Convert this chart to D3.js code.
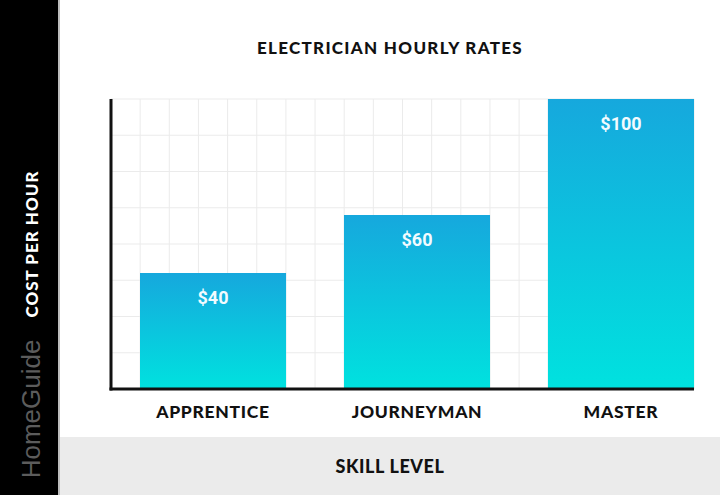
<!DOCTYPE html>
<html><head><meta charset="utf-8">
<script src="https://cdn.jsdelivr.net/npm/d3@7"></script>
<style>
html,body{margin:0;padding:0;background:#fff;}
svg{display:block;}
</style></head>
<body>
<svg id="chart" width="720" height="495"></svg>
<script>
const categories = ["APPRENTICE", "JOURNEYMAN", "MASTER"];
const rates = [40, 60, 100];
const valueLabels = ["$40", "$60", "$100"];
const yGridValues = [0, 12.5, 25, 37.5, 50, 62.5, 75, 87.5, 100];
const xGridCount = 20;
const title = "ELECTRICIAN HOURLY RATES";
const xTitle = "SKILL LEVEL";
const yTitle = "COST PER HOUR";
const brand = "HomeGuide";

const svg = d3.select("#chart");
const W = 720, H = 495;
const plot = {left: 111, right: 694, top: 99, bottom: 389};

// background bands
svg.append("rect").attr("x", 0).attr("y", 0).attr("width", W).attr("height", H).attr("fill", "#fff");
svg.append("rect").attr("x", 60).attr("y", 437).attr("width", W - 60).attr("height", H - 437).attr("fill", "#ebebeb");
svg.append("rect").attr("x", 0).attr("y", 0).attr("width", 58).attr("height", H).attr("fill", "#000");
svg.append("rect").attr("x", 58).attr("y", 0).attr("width", 2).attr("height", H).attr("fill", "#bdbdbd");

const y = d3.scaleLinear().domain([0, 100]).range([plot.bottom, plot.top]);
const x = d3.scaleBand().domain(categories).range([140, 694]).paddingInner(0.284).paddingOuter(0);
const gx = d3.scaleLinear().domain([0, xGridCount]).range([plot.left, plot.right]);

// grid
const grid = svg.append("g");
grid.selectAll("line.h").data(yGridValues).join("line")
  .attr("x1", plot.left).attr("x2", plot.right)
  .attr("y1", d => y(d)).attr("y2", d => y(d))
  .attr("stroke", "#ebebeb").attr("stroke-width", 1);
grid.selectAll("line.v").data(d3.range(1, xGridCount + 1)).join("line")
  .attr("x1", d => gx(d)).attr("x2", d => gx(d))
  .attr("y1", plot.top).attr("y2", plot.bottom)
  .attr("stroke", "#ebebeb").attr("stroke-width", 1);

// gradient
const defs = svg.append("defs");
const grad = defs.append("linearGradient").attr("id", "barGrad")
  .attr("x1", 0).attr("y1", 0).attr("x2", 0).attr("y2", 1);
grad.append("stop").attr("offset", "0%").attr("stop-color", "#16a8dd");
grad.append("stop").attr("offset", "100%").attr("stop-color", "#00e2df");

const data = categories.map((c, i) => ({cat: c, v: rates[i], label: valueLabels[i]}));

svg.append("g").selectAll("rect").data(data).join("rect")
  .attr("x", d => x(d.cat)).attr("width", x.bandwidth())
  .attr("y", d => y(d.v)).attr("height", d => y(0) - y(d.v))
  .attr("fill", "url(#barGrad)");

svg.append("g").selectAll("text").data(data).join("text")
  .attr("x", d => x(d.cat) + x.bandwidth() / 2)
  .attr("y", d => y(d.v) + 31)
  .attr("text-anchor", "middle")
  .attr("fill", "#f2fbff")
  .attr("font-family", "Roboto, 'Open Sans', sans-serif")
  .attr("font-weight", "bold")
  .attr("font-size", 18)
  .text(d => d.label);

// axes lines
svg.append("line").attr("x1", plot.left).attr("x2", plot.left)
  .attr("y1", plot.top).attr("y2", plot.bottom + 1.5)
  .attr("stroke", "#111").attr("stroke-width", 3);
svg.append("line").attr("x1", plot.left - 1.5).attr("x2", plot.right)
  .attr("y1", plot.bottom).attr("y2", plot.bottom)
  .attr("stroke", "#111").attr("stroke-width", 3);

// category labels
svg.append("g").selectAll("text").data(categories).join("text")
  .attr("x", d => x(d) + x.bandwidth() / 2)
  .attr("y", 418)
  .attr("text-anchor", "middle")
  .attr("fill", "#111")
  .attr("font-family", "Lato, sans-serif")
  .attr("font-weight", 900)
  .attr("font-size", 17.5)
  .attr("letter-spacing", 0.7)
  .text(d => d);

// title
svg.append("text").attr("x", 390).attr("y", 54).attr("text-anchor", "middle")
  .attr("fill", "#111").attr("font-family", "Lato, sans-serif").attr("font-weight", 900)
  .attr("font-size", 17).attr("letter-spacing", 1.3).text(title);

// x title
svg.append("text").attr("x", 390).attr("y", 473).attr("text-anchor", "middle")
  .attr("fill", "#111").attr("font-family", "Lato, sans-serif").attr("font-weight", 900)
  .attr("font-size", 18).attr("letter-spacing", 0.6).text(xTitle);

// y title
svg.append("text").attr("transform", "translate(38,244) rotate(-90)")
  .attr("text-anchor", "middle").attr("fill", "#fff")
  .attr("font-family", "Lato, sans-serif").attr("font-weight", 900)
  .attr("font-size", 17).attr("letter-spacing", 1).text(yTitle);

// brand
svg.append("text").attr("transform", "translate(40,409) rotate(-90)")
  .attr("text-anchor", "middle").attr("fill", "#5c5c5c")
  .attr("font-family", "'Liberation Sans', Arial, sans-serif")
  .attr("font-size", 26).text(brand);
</script>
</body></html>
